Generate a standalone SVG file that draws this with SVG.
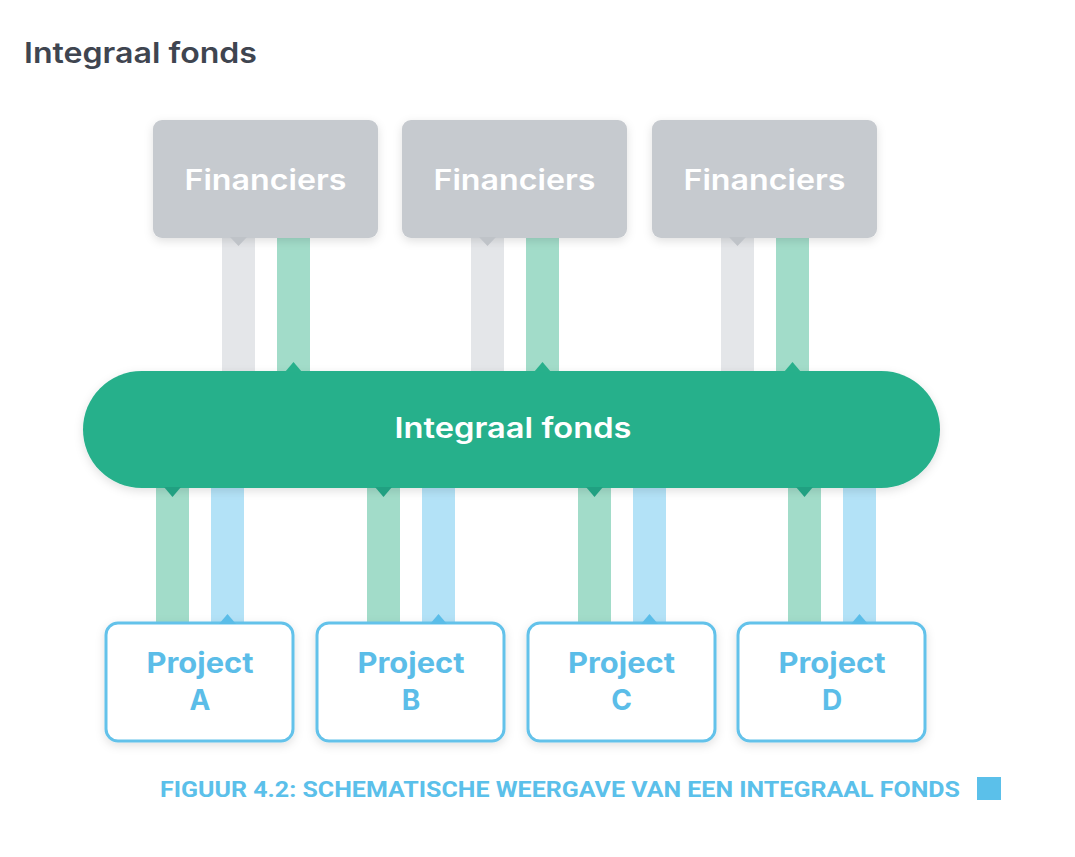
<svg xmlns="http://www.w3.org/2000/svg" width="1075" height="857" viewBox="0 0 1075 857">
<defs>
<filter id="sh" x="-20%" y="-30%" width="140%" height="160%">
<feDropShadow dx="0" dy="3" stdDeviation="5" flood-color="#000" flood-opacity="0.12"/>
</filter>
<style>
.fin{fill:#c6cacf}
.fint{fill:#fff;font-family:Inter,"Open Sans",sans-serif;font-weight:600;font-size:28px;text-anchor:middle}
.gbar{fill:#e4e6e9}
.grbar{fill:#a2dcc9}
.bbar{fill:#b3e2f7}
.proj{fill:#fff;stroke:#63c2ea;stroke-width:3}
.projt{fill:#5bbde8;font-family:Inter,"Open Sans",sans-serif;font-weight:700;font-size:28px;text-anchor:middle}
.tg{fill:#bfc3c8}
.tf{fill:#27b08b}
.tfd{fill:#21a081}
.tb{fill:#5bbde8}
</style>
</defs>
<rect width="1075" height="857" fill="#fff"/>
<text x="24" y="63" font-family="Inter,'Open Sans',sans-serif" font-weight="600" font-size="28" fill="#3f4550" textLength="233" lengthAdjust="spacingAndGlyphs">Integraal fonds</text>

<g id="connectors">
<rect class="gbar" x="222" y="236" width="33" height="137"/>
<rect class="grbar" x="277" y="236" width="33" height="137"/>
<rect class="gbar" x="471" y="236" width="33" height="137"/>
<rect class="grbar" x="526" y="236" width="33" height="137"/>
<rect class="gbar" x="721" y="236" width="33" height="137"/>
<rect class="grbar" x="776" y="236" width="33" height="137"/>
<rect class="grbar" x="156" y="486" width="33" height="138"/>
<rect class="bbar" x="211" y="486" width="33" height="138"/>
<rect class="grbar" x="367" y="486" width="33" height="138"/>
<rect class="bbar" x="422" y="486" width="33" height="138"/>
<rect class="grbar" x="578" y="486" width="33" height="138"/>
<rect class="bbar" x="633" y="486" width="33" height="138"/>
<rect class="grbar" x="788" y="486" width="33" height="138"/>
<rect class="bbar" x="843" y="486" width="33" height="138"/>
</g>

<g id="financiers1">
<rect class="fin" x="153" y="120" width="225" height="118" rx="9" filter="url(#sh)"/>
<polygon class="tg" points="230,237 247,237 238.5,246"/>
<text class="fint" x="265.5" y="190" textLength="162" lengthAdjust="spacingAndGlyphs">Financiers</text>
</g>
<g id="financiers2">
<rect class="fin" x="402" y="120" width="225" height="118" rx="9" filter="url(#sh)"/>
<polygon class="tg" points="479,237 496,237 487.5,246"/>
<text class="fint" x="514.5" y="190" textLength="162" lengthAdjust="spacingAndGlyphs">Financiers</text>
</g>
<g id="financiers3">
<rect class="fin" x="652" y="120" width="225" height="118" rx="9" filter="url(#sh)"/>
<polygon class="tg" points="729,237 746,237 737.5,246"/>
<text class="fint" x="764.5" y="190" textLength="162" lengthAdjust="spacingAndGlyphs">Financiers</text>
</g>

<g id="fund">
<rect x="83" y="371" width="857" height="117" rx="58.5" fill="#27b08b" filter="url(#sh)"/>
<polygon class="tf" points="285,372 302,372 293.5,362"/>
<polygon class="tf" points="534,372 551,372 542.5,362"/>
<polygon class="tf" points="784,372 801,372 792.5,362"/>
<polygon class="tfd" points="164,487 181,487 172.5,497"/>
<polygon class="tfd" points="375,487 392,487 383.5,497"/>
<polygon class="tfd" points="586,487 603,487 594.5,497"/>
<polygon class="tfd" points="796,487 813,487 804.5,497"/>
<text x="513" y="438" fill="#fff" font-family="Inter,'Open Sans',sans-serif" font-weight="600" font-size="28" text-anchor="middle" textLength="237" lengthAdjust="spacingAndGlyphs">Integraal fonds</text>
</g>

<g id="projectA">
<rect class="proj" x="106" y="623" width="187" height="118" rx="12" filter="url(#sh)"/>
<polygon class="tb" points="219,624 236,624 227.5,614"/>
<text class="projt" x="200" y="673" textLength="107" lengthAdjust="spacingAndGlyphs">Project</text>
<text class="projt" x="200" y="710">A</text>
</g>
<g id="projectB">
<rect class="proj" x="317" y="623" width="187" height="118" rx="12" filter="url(#sh)"/>
<polygon class="tb" points="430,624 447,624 438.5,614"/>
<text class="projt" x="411" y="673" textLength="107" lengthAdjust="spacingAndGlyphs">Project</text>
<text class="projt" x="411" y="710">B</text>
</g>
<g id="projectC">
<rect class="proj" x="528" y="623" width="187" height="118" rx="12" filter="url(#sh)"/>
<polygon class="tb" points="641,624 658,624 649.5,614"/>
<text class="projt" x="621.5" y="673" textLength="107" lengthAdjust="spacingAndGlyphs">Project</text>
<text class="projt" x="621.5" y="710">C</text>
</g>
<g id="projectD">
<rect class="proj" x="738" y="623" width="187" height="118" rx="12" filter="url(#sh)"/>
<polygon class="tb" points="851,624 868,624 859.5,614"/>
<text class="projt" x="832" y="673" textLength="107" lengthAdjust="spacingAndGlyphs">Project</text>
<text class="projt" x="832" y="710">D</text>
</g>

<text x="160" y="797" fill="#5bc0ea" font-family="Roboto,'Liberation Sans',sans-serif" font-weight="700" font-size="22" textLength="800" lengthAdjust="spacingAndGlyphs">FIGUUR 4.2: SCHEMATISCHE WEERGAVE VAN EEN INTEGRAAL FONDS</text>
<rect x="977" y="777" width="24" height="23" fill="#5bc0ea"/>
</svg>
